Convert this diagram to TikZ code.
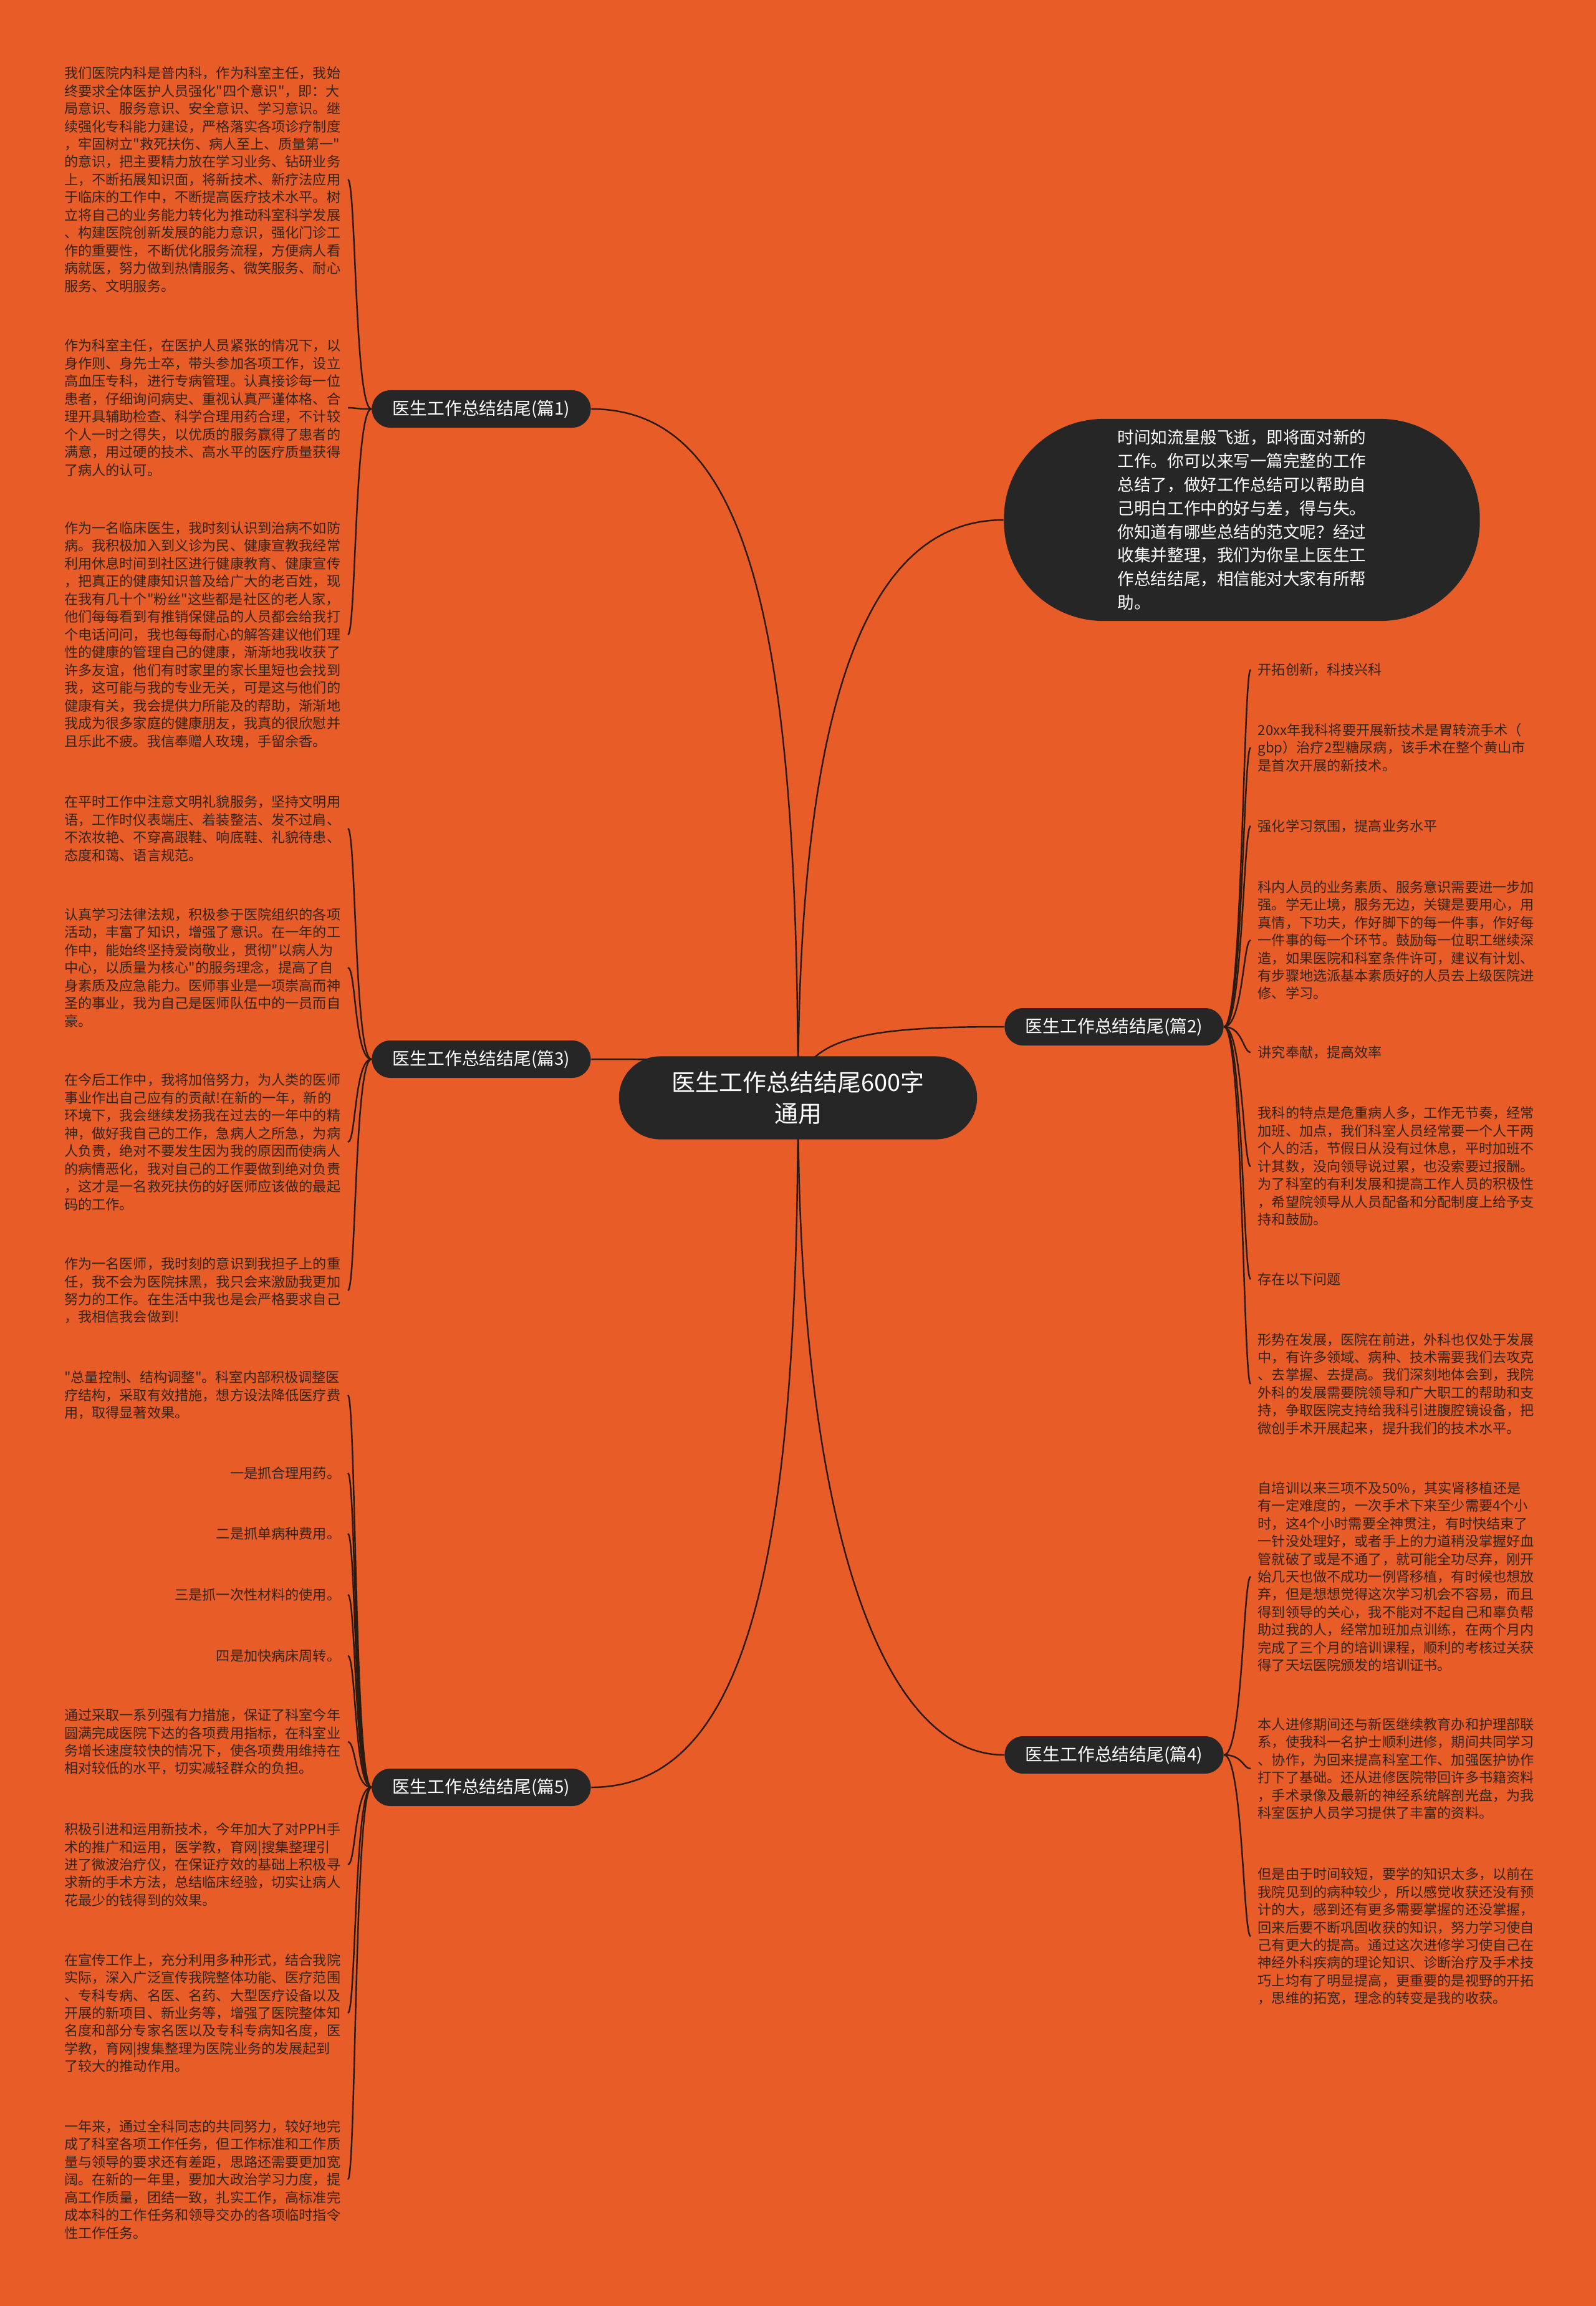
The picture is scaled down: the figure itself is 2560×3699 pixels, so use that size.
\documentclass[tikz,border=0pt]{standalone}
\usepackage{fontspec}
\setmainfont{Noto Sans CJK SC}[Ligatures=TeXOff]
\definecolor{bgorange}{HTML}{E85C28}
\definecolor{nodedark}{HTML}{262626}
\definecolor{linedark}{HTML}{2A1A10}
\definecolor{textdark}{HTML}{33241B}
\pgfdeclarelayer{bg}
\pgfdeclarelayer{edges}
\pgfsetlayers{bg,edges,main}
\begin{document}
\begin{tikzpicture}
[x=0.01cm,y=-0.01cm,
 rootnode/.style={fill=nodedark,text=white,rounded corners=0.66cm,minimum width=5.74cm,minimum height=1.33cm,inner sep=0pt,align=center,font=\fontsize{10.8}{14.2}\selectfont},
 branchnode/.style={fill=nodedark,text=white,rounded corners=0.3cm,minimum width=3.51cm,minimum height=0.6cm,inner sep=0pt,font=\fontsize{7.9}{9}\selectfont},
 bubblenode/.style={fill=nodedark,text=white,rounded corners=1.6cm,minimum width=7.63cm,minimum height=3.24cm,inner sep=0pt,align=left,font=\fontsize{7.55}{10.75}\selectfont},
 leafleft/.style={anchor=east,align=left,text=textdark,inner xsep=0.11cm,inner ysep=0pt,font=\fontsize{6.3}{8.1}\selectfont},
 leafright/.style={leafleft,anchor=west},
 linedecorate/.style={draw=linedark,line width=0.7pt}]
\useasboundingbox (0,0) rectangle (2560,3699);
\begin{pgfonlayer}{bg}
\fill[bgorange] (0,0) rectangle (2560,3699);
\end{pgfonlayer}

%% centre and branches
\node[rootnode] (root) at (1280,1761) {医生工作总结结尾600字\\通用};
\node[branchnode] (b1) at (772,656) {医生工作总结结尾(篇1)};
\node[branchnode] (b3) at (772,1699) {医生工作总结结尾(篇3)};
\node[branchnode] (b5) at (772,2867) {医生工作总结结尾(篇5)};
\node[branchnode] (b2) at (1787,1647) {医生工作总结结尾(篇2)};
\node[branchnode] (b4) at (1787,2815) {医生工作总结结尾(篇4)};
\node[bubblenode] (bubble) at (1992,834) {时间如流星般飞逝，即将面对新的\\
工作。你可以来写一篇完整的工作\\
总结了，做好工作总结可以帮助自\\
己明白工作中的好与差，得与失。\\
你知道有哪些总结的范文呢？经过\\
收集并整理，我们为你呈上医生工\\
作总结结尾，相信能对大家有所帮\\
助。};

%% left leaves
\node[leafleft] (l1a) at (558,288) {我们医院内科是普内科，作为科室主任，我始\\
终要求全体医护人员强化"四个意识"，即：大\\
局意识、服务意识、安全意识、学习意识。继\\
续强化专科能力建设，严格落实各项诊疗制度\\
，牢固树立"救死扶伤、病人至上、质量第一"\\
的意识，把主要精力放在学习业务、钻研业务\\
上，不断拓展知识面，将新技术、新疗法应用\\
于临床的工作中，不断提高医疗技术水平。树\\
立将自己的业务能力转化为推动科室科学发展\\
、构建医院创新发展的能力意识，强化门诊工\\
作的重要性，不断优化服务流程，方便病人看\\
病就医，努力做到热情服务、微笑服务、耐心\\
服务、文明服务。};
\node[leafleft] (l1b) at (558,654) {作为科室主任，在医护人员紧张的情况下，以\\
身作则、身先士卒，带头参加各项工作，设立\\
高血压专科，进行专病管理。认真接诊每一位\\
患者，仔细询问病史、重视认真严谨体格、合\\
理开具辅助检查、科学合理用药合理，不计较\\
个人一时之得失，以优质的服务赢得了患者的\\
满意，用过硬的技术、高水平的医疗质量获得\\
了病人的认可。};
\node[leafleft] (l1c) at (558,1018) {作为一名临床医生，我时刻认识到治病不如防\\
病。我积极加入到义诊为民、健康宣教我经常\\
利用休息时间到社区进行健康教育、健康宣传\\
，把真正的健康知识普及给广大的老百姓，现\\
在我有几十个"粉丝"这些都是社区的老人家，\\
他们每每看到有推销保健品的人员都会给我打\\
个电话问问，我也每每耐心的解答建议他们理\\
性的健康的管理自己的健康，渐渐地我收获了\\
许多友谊，他们有时家里的家长里短也会找到\\
我，这可能与我的专业无关，可是这与他们的\\
健康有关，我会提供力所能及的帮助，渐渐地\\
我成为很多家庭的健康朋友，我真的很欣慰并\\
且乐此不疲。我信奉赠人玫瑰，手留余香。};
\node[leafleft] (l3a) at (558,1329) {在平时工作中注意文明礼貌服务，坚持文明用\\
语，工作时仪表端庄、着装整洁、发不过肩、\\
不浓妆艳、不穿高跟鞋、响底鞋、礼貌待患、\\
态度和蔼、语言规范。};
\node[leafleft] (l3b) at (558,1552) {认真学习法律法规，积极参于医院组织的各项\\
活动，丰富了知识，增强了意识。在一年的工\\
作中，能始终坚持爱岗敬业，贯彻"以病人为\\
中心，以质量为核心"的服务理念，提高了自\\
身素质及应急能力。医师事业是一项崇高而神\\
圣的事业，我为自己是医师队伍中的一员而自\\
豪。};
\node[leafleft] (l3c) at (558,1832) {在今后工作中，我将加倍努力，为人类的医师\\
事业作出自己应有的贡献!在新的一年，新的\\
环境下，我会继续发扬我在过去的一年中的精\\
神，做好我自己的工作，急病人之所急，为病\\
人负责，绝对不要发生因为我的原因而使病人\\
的病情恶化，我对自己的工作要做到绝对负责\\
，这才是一名救死扶伤的好医师应该做的最起\\
码的工作。};
\node[leafleft] (l3d) at (558,2070) {作为一名医师，我时刻的意识到我担子上的重\\
任，我不会为医院抹黑，我只会来激励我更加\\
努力的工作。在生活中我也是会严格要求自己\\
，我相信我会做到!};
\node[leafleft] (l5a) at (558,2238) {"总量控制、结构调整"。科室内部积极调整医\\
疗结构，采取有效措施，想方设法降低医疗费\\
用，取得显著效果。};
\node[leafleft] (l5b) at (558,2363) {一是抓合理用药。};
\node[leafleft] (l5c) at (558,2460) {二是抓单病种费用。};
\node[leafleft] (l5d) at (558,2558) {三是抓一次性材料的使用。};
\node[leafleft] (l5e) at (558,2656) {四是加快病床周转。};
\node[leafleft] (l5f) at (558,2794) {通过采取一系列强有力措施，保证了科室今年\\
圆满完成医院下达的各项费用指标，在科室业\\
务增长速度较快的情况下，使各项费用维持在\\
相对较低的水平，切实减轻群众的负担。};
\node[leafleft] (l5g) at (558,2991) {积极引进和运用新技术，今年加大了对PPH手\\
术的推广和运用，医学教，育网|搜集整理引\\
进了微波治疗仪，在保证疗效的基础上积极寻\\
求新的手术方法，总结临床经验，切实让病人\\
花最少的钱得到的效果。};
\node[leafleft] (l5h) at (558,3229) {在宣传工作上，充分利用多种形式，结合我院\\
实际，深入广泛宣传我院整体功能、医疗范围\\
、专科专病、名医、名药、大型医疗设备以及\\
开展的新项目、新业务等，增强了医院整体知\\
名度和部分专家名医以及专科专病知名度，医\\
学教，育网|搜集整理为医院业务的发展起到\\
了较大的推动作用。};
\node[leafleft] (l5i) at (558,3496) {一年来，通过全科同志的共同努力，较好地完\\
成了科室各项工作任务，但工作标准和工作质\\
量与领导的要求还有差距，思路还需要更加宽\\
阔。在新的一年里，要加大政治学习力度，提\\
高工作质量，团结一致，扎实工作，高标准完\\
成本科的工作任务和领导交办的各项临时指令\\
性工作任务。};

%% right leaves
\node[leafright] (r2a) at (2006,1074) {开拓创新，科技兴科};
\node[leafright] (r2b) at (2006,1199) {20xx年我科将要开展新技术是胃转流手术（\\
gbp）治疗2型糖尿病，该手术在整个黄山市\\
是首次开展的新技术。};
\node[leafright] (r2c) at (2006,1325) {强化学习氛围，提高业务水平};
\node[leafright] (r2d) at (2006,1508) {科内人员的业务素质、服务意识需要进一步加\\
强。学无止境，服务无边，关键是要用心，用\\
真情，下功夫，作好脚下的每一件事，作好每\\
一件事的每一个环节。鼓励每一位职工继续深\\
造，如果医院和科室条件许可，建议有计划、\\
有步骤地选派基本素质好的人员去上级医院进\\
修、学习。};
\node[leafright] (r2e) at (2006,1688) {讲究奉献，提高效率};
\node[leafright] (r2f) at (2006,1871) {我科的特点是危重病人多，工作无节奏，经常\\
加班、加点，我们科室人员经常要一个人干两\\
个人的活，节假日从没有过休息，平时加班不\\
计其数，没向领导说过累，也没索要过报酬。\\
为了科室的有利发展和提高工作人员的积极性\\
，希望院领导从人员配备和分配制度上给予支\\
持和鼓励。};
\node[leafright] (r2g) at (2006,2052) {存在以下问题};
\node[leafright] (r2h) at (2006,2220) {形势在发展，医院在前进，外科也仅处于发展\\
中，有许多领域、病种、技术需要我们去攻克\\
、去掌握、去提高。我们深刻地体会到，我院\\
外科的发展需要院领导和广大职工的帮助和支\\
持，争取医院支持给我科引进腹腔镜设备，把\\
微创手术开展起来，提升我们的技术水平。};
\node[leafright] (r4a) at (2006,2529) {自培训以来三项不及50\%，其实肾移植还是\\
有一定难度的，一次手术下来至少需要4个小\\
时，这4个小时需要全神贯注，有时快结束了\\
一针没处理好，或者手上的力道稍没掌握好血\\
管就破了或是不通了，就可能全功尽弃，刚开\\
始几天也做不成功一例肾移植，有时候也想放\\
弃，但是想想觉得这次学习机会不容易，而且\\
得到领导的关心，我不能对不起自己和辜负帮\\
助过我的人，经常加班加点训练，在两个月内\\
完成了三个月的培训课程，顺利的考核过关获\\
得了天坛医院颁发的培训证书。};
\node[leafright] (r4b) at (2006,2837) {本人进修期间还与新医继续教育办和护理部联\\
系，使我科一名护士顺利进修，期间共同学习\\
、协作，为回来提高科室工作、加强医护协作\\
打下了基础。还从进修医院带回许多书籍资料\\
，手术录像及最新的神经系统解剖光盘，为我\\
科室医护人员学习提供了丰富的资料。};
\node[leafright] (r4c) at (2006,3106) {但是由于时间较短，要学的知识太多，以前在\\
我院见到的病种较少，所以感觉收获还没有预\\
计的大，感到还有更多需要掌握的还没掌握，\\
回来后要不断巩固收获的知识，努力学习使自\\
己有更大的提高。通过这次进修学习使自己在\\
神经外科疾病的理论知识、诊断治疗及手术技\\
巧上均有了明显提高，更重要的是视野的开拓\\
，思维的拓宽，理念的转变是我的收获。};

\begin{pgfonlayer}{edges}
%% centre to branches
\draw[linedecorate] (root.center) .. controls (1280,1000) and (1200,656) .. (b1.east);
\draw[linedecorate] (root.center) .. controls (1280,1699) and (1100,1699) .. (b3.east);
\draw[linedecorate] (root.center) .. controls (1280,2500) and (1200,2867) .. (b5.east);
\draw[linedecorate] (root.center) .. controls (1280,1100) and (1400,834) .. (bubble.west);
\draw[linedecorate] (root.center) .. controls (1280,1660) and (1400,1647) .. (b2.west);
\draw[linedecorate] (root.center) .. controls (1280,2400) and (1400,2815) .. (b4.west);
%% branches to leaves
\foreach \leaf in {l1a,l1b,l1c}
  \draw[linedecorate] (b1.west) .. controls +(-27,0) and +(13,0) .. (\leaf.east);
\foreach \leaf in {l3a,l3b,l3c,l3d}
  \draw[linedecorate] (b3.west) .. controls +(-27,0) and +(13,0) .. (\leaf.east);
\foreach \leaf in {l5a,l5b,l5c,l5d,l5e,l5f,l5g,l5h,l5i}
  \draw[linedecorate] (b5.west) .. controls +(-27,0) and +(13,0) .. (\leaf.east);
\foreach \leaf in {r2a,r2b,r2c,r2d,r2e,r2f,r2g,r2h}
  \draw[linedecorate] (b2.east) .. controls +(30,0) and +(-12,0) .. (\leaf.west);
\foreach \leaf in {r4a,r4b,r4c}
  \draw[linedecorate] (b4.east) .. controls +(30,0) and +(-12,0) .. (\leaf.west);
\end{pgfonlayer}
\end{tikzpicture}
\end{document}
